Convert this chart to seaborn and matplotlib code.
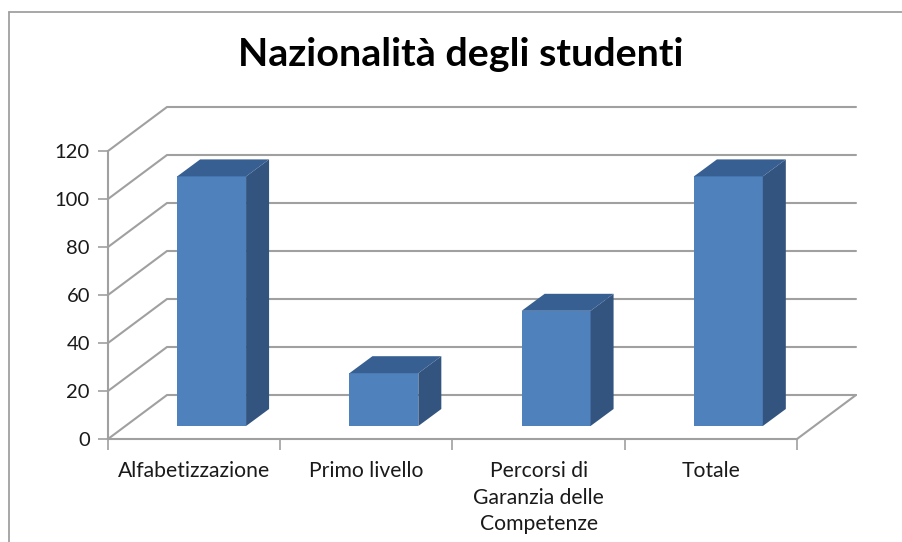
import matplotlib
matplotlib.use("Agg")
import matplotlib.pyplot as plt
from matplotlib.lines import Line2D
from matplotlib.patches import Polygon
from matplotlib.transforms import Affine2D
import numpy as np
import pandas as pd
import seaborn as sns

categories = ["Alfabetizzazione", "Primo livello", "Percorsi di\nGaranzia delle\nCompetenze", "Totale"]
values = [104, 22, 48, 104]
yticks = [0, 20, 40, 60, 80, 100, 120]
title = "Nazionalità degli studenti"

W, H = 903, 542
sns.set_theme(style="white")
plt.rcParams["font.family"] = ["Lato", "DejaVu Sans"]
GREY = "#a0a0a0"
FRONT, SIDE, TOP = "#4f81bd", "#33547e", "#375f92"

fig = plt.figure(figsize=(W / 100, H / 100), dpi=100, facecolor="white")
L, R, Y0, Y1 = 108, 797, 439, 151
ax = fig.add_axes([L / W, 1 - Y0 / H, (R - L) / W, (Y0 - Y1) / H])
df = pd.DataFrame({"cat": categories, "val": values})
sns.barplot(data=df, x="cat", y="val", color=FRONT, saturation=1, width=0.4, ax=ax, zorder=3,
            linewidth=0, edgecolor="none")
ax.set_xlim(-0.5, 3.5)
ax.set_ylim(0, 120)
ax.set_xlabel("")
ax.set_ylabel("")

px_x = (R - L) / 4          # pixels per category
px_y = (Y0 - Y1) / 120      # pixels per value unit
wall_dx, wall_dy = 59 / px_x, 44 / px_y
bar_dx, bar_dy = 23 / px_x, 17 / px_y
shift = ax.transData + Affine2D().translate(17.5, 13)

# Walls and floor of the 3D box
for v in yticks:
    ax.plot([-0.5, -0.5 + wall_dx, 3.5 + wall_dx], [v, v + wall_dy, v + wall_dy],
            color=GREY, lw=1.5, clip_on=False, zorder=1)
ax.plot([3.5, 3.5 + wall_dx], [0, wall_dy], color=GREY, lw=1.5, clip_on=False, zorder=1)

# Bars: the seaborn rectangles, moved into the box, with side and top faces
for patch in ax.patches:
    patch.set_transform(shift)
    patch.set_clip_on(False)
    x0, w, h = patch.get_x(), patch.get_width(), patch.get_height()
    side = [(x0 + w, 0), (x0 + w + bar_dx, bar_dy), (x0 + w + bar_dx, h + bar_dy), (x0 + w, h)]
    top = [(x0, h), (x0 + bar_dx, h + bar_dy), (x0 + w + bar_dx, h + bar_dy), (x0 + w, h)]
    ax.add_artist(Polygon(side, closed=True, fc=SIDE, ec="none", transform=shift, clip_on=False, zorder=3))
    ax.add_artist(Polygon(top, closed=True, fc=TOP, ec="none", transform=shift, clip_on=False, zorder=3))

sns.despine(ax=ax)
for s in ("left", "bottom"):
    ax.spines[s].set_color(GREY)
    ax.spines[s].set_linewidth(1.5)
ax.set_yticks(yticks)
ax.set_xticks(range(len(categories)))
ax.set_xticklabels(categories, fontsize=15.2, color="#1a1a1a", linespacing=1.4)
ax.set_xticks(np.arange(-0.5, 4), minor=True)
ax.tick_params(axis="x", which="major", length=0, pad=16)
ax.tick_params(axis="x", which="minor", bottom=True, length=8, width=1.2, color=GREY)
ax.tick_params(axis="y", left=True, length=7, width=1.2, color=GREY, labelsize=14.5, labelcolor="#1a1a1a", pad=6)

fig.text(461 / W, 1 - 55 / H, title, ha="center", va="center", fontsize=28.4, fontweight="bold", color="black")

# Chart frame: only its top and left edges fall inside the picture
fig.add_artist(Line2D([9 / W, 9 / W], [0, 1 - 12 / H], color=GREY, lw=1.3))
fig.add_artist(Line2D([9 / W, 1], [1 - 12 / H, 1 - 12 / H], color=GREY, lw=1.3))

fig.savefig("out.png", dpi=100, facecolor="white")
